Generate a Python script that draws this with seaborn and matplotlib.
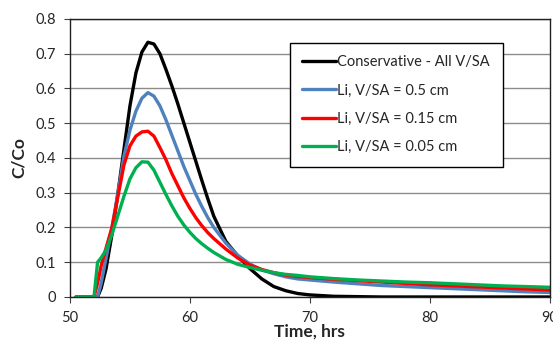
import matplotlib
matplotlib.use("Agg")
import matplotlib.pyplot as plt
import pandas as pd
import seaborn as sns

# Breakthrough curves
time_hrs = [50.5, 51, 51.5, 52, 52.3, 52.6, 53, 53.5, 54, 54.5, 55, 55.5, 56, 56.5,
            57, 57.5, 58, 58.5, 59, 59.5, 60, 60.5, 61, 61.5, 62, 63, 64, 65, 66, 67,
            68, 69, 70, 72, 74, 76, 78, 80, 82, 84, 86, 88, 90]

conservative = [0, 0, 0, 0, 0, 0.025, 0.08, 0.18, 0.30, 0.425, 0.55, 0.645, 0.705, 0.733,
                0.728, 0.70, 0.655, 0.607, 0.555, 0.50, 0.445, 0.39, 0.335, 0.282, 0.232,
                0.16, 0.118, 0.082, 0.052, 0.030, 0.018, 0.010, 0.006, 0.002, 0.001,
                0, 0, 0, 0, 0, 0, 0, 0]
li_050 = [0, 0, 0, 0, 0, 0.04, 0.11, 0.20, 0.30, 0.405, 0.48, 0.535, 0.572, 0.588,
          0.578, 0.55, 0.51, 0.465, 0.42, 0.375, 0.335, 0.295, 0.26, 0.228, 0.20,
          0.155, 0.12, 0.095, 0.078, 0.067, 0.058, 0.052, 0.049, 0.043, 0.038, 0.033,
          0.030, 0.027, 0.024, 0.021, 0.018, 0.015, 0.013]
li_015 = [0, 0, 0, 0, 0.04, 0.09, 0.14, 0.20, 0.29, 0.38, 0.435, 0.463, 0.475, 0.477,
          0.463, 0.43, 0.395, 0.355, 0.32, 0.285, 0.255, 0.228, 0.205, 0.185, 0.168,
          0.138, 0.112, 0.092, 0.079, 0.07, 0.063, 0.059, 0.056, 0.051, 0.047, 0.043,
          0.039, 0.035, 0.032, 0.029, 0.026, 0.023, 0.020]
li_005 = [0, 0, 0, 0, 0.10, 0.113, 0.135, 0.18, 0.235, 0.29, 0.34, 0.372, 0.389, 0.388,
          0.365, 0.33, 0.295, 0.262, 0.232, 0.207, 0.186, 0.168, 0.153, 0.14, 0.128,
          0.108, 0.094, 0.085, 0.077, 0.07, 0.065, 0.062, 0.058, 0.053, 0.049, 0.046,
          0.043, 0.041, 0.038, 0.035, 0.032, 0.030, 0.028]

series_names = ["Conservative - All V/SA", "Li, V/SA = 0.5 cm",
                "Li, V/SA = 0.15 cm", "Li, V/SA = 0.05 cm"]
series_colors = ["#000000", "#4F81BD", "#FF0000", "#00B050"]

x_ticks = [50, 60, 70, 80, 90]
y_ticks = [0, 0.1, 0.2, 0.3, 0.4, 0.5, 0.6, 0.7, 0.8]

# Long-form table for seaborn
frames = []
for name, vals in zip(series_names, [conservative, li_050, li_015, li_005]):
    frames.append(pd.DataFrame({"time": time_hrs, "conc": vals, "series": name}))
df = pd.concat(frames, ignore_index=True)

sns.set_style("white")
plt.rcParams["font.family"] = ["Lato", "DejaVu Sans"]

fig = plt.figure(figsize=(5.53, 3.42), dpi=100)
ax = fig.add_axes([0.1266, 0.1316, 0.8671, 0.8129])

sns.lineplot(data=df, x="time", y="conc", hue="series", hue_order=series_names,
             palette=dict(zip(series_names, series_colors)), linewidth=2.4,
             sort=False, ax=ax)

ax.set_xlim(50, 90)
ax.set_ylim(0, 0.8)
ax.set_xticks(x_ticks)
ax.set_yticks(y_ticks)
ax.set_yticklabels([f"{v:g}" for v in y_ticks])
ax.tick_params(axis="both", labelsize=10.5, length=4, width=0.8, direction="out",
               color="#404040", pad=6, left=True, bottom=True)

ax.grid(axis="y", color="#8c8c8c", linewidth=1.0)
ax.grid(axis="x", visible=False)
ax.set_axisbelow(True)
for side in ["left", "bottom", "top", "right"]:
    ax.spines[side].set_visible(True)
    ax.spines[side].set_color("#202020")
    ax.spines[side].set_linewidth(1.0)

ax.set_xlabel("Time, hrs", fontsize=12.5, fontweight="bold", labelpad=-1)
ax.set_ylabel("C/Co", fontsize=12.5, fontweight="bold", labelpad=6)

handles, labels = ax.get_legend_handles_labels()
leg = ax.legend(handles, labels, loc="upper left", bbox_to_anchor=(0.459, 0.914),
                fontsize=10.5, frameon=True, fancybox=False, framealpha=1,
                edgecolor="black", handlelength=2.3, handletextpad=0.1,
                labelspacing=0.98, borderpad=0.85, borderaxespad=0)
leg.get_frame().set_linewidth(1.0)

fig.savefig("out.png", dpi=100)
